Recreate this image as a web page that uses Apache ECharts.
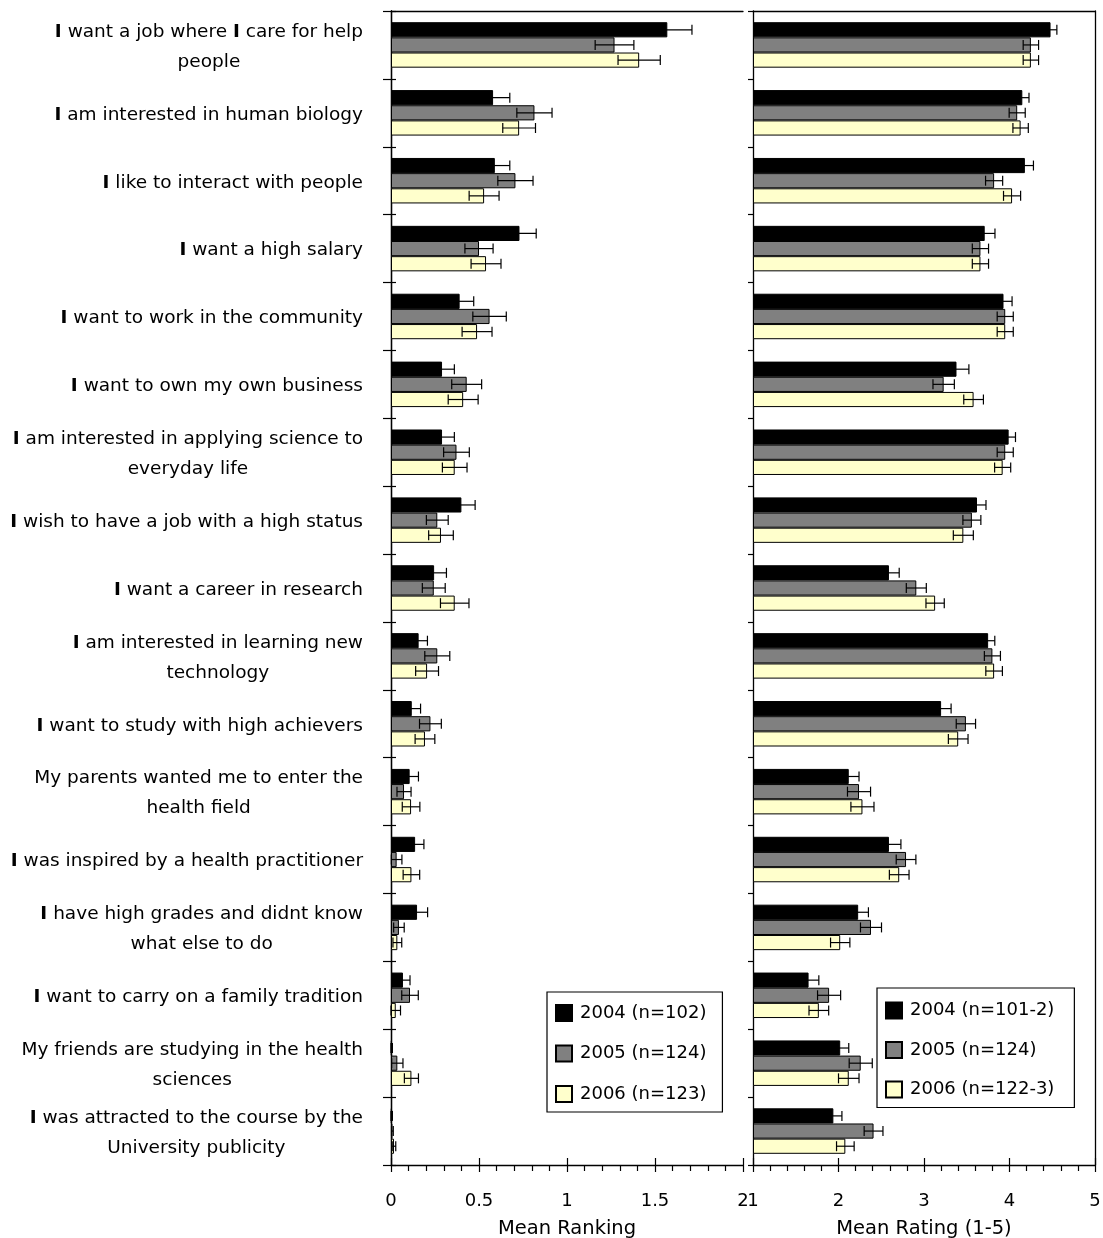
<!DOCTYPE html>
<html>
<head>
<meta charset="utf-8">
<title>Reasons for choosing the course</title>
<script src="https://cdn.jsdelivr.net/npm/echarts@6/dist/echarts.min.js"></script>
<style>
  html, body { margin: 0; padding: 0; background: #fff; }
  #chart { width: 1103px; height: 1238px; }
</style>
</head>
<body>
<div id="chart"></div>
<script>
// ---- data ---------------------------------------------------------------
const categories = [
  'I want a job where I care for help\npeople',
  'I am interested in human biology',
  'I like to interact with people',
  'I want a high salary',
  'I want to work in the community',
  'I want to own my own business',
  'I am interested in applying science to\neveryday life',
  'I wish to have a job with a high status',
  'I want a career in research',
  'I am interested in learning new\ntechnology',
  'I want to study with high achievers',
  'My parents wanted me to enter the\nhealth field',
  'I was inspired by a health practitioner',
  'I have high grades and didnt know\nwhat else to do',
  'I want to carry on a family tradition',
  'My friends are studying in the health\nsciences',
  'I was attracted to the course by the\nUniversity publicity'
];

// Mean ranking (left panel) with standard errors
const rankNames = ['2004 (n=102)', '2005 (n=124)', '2006 (n=123)'];
const rank2004 = [1.57, 0.58, 0.59, 0.73, 0.39, 0.29, 0.29, 0.40, 0.245, 0.157, 0.118, 0.106, 0.137, 0.148, 0.068, 0.004, 0.004];
const rankErr2004 = [0.14, 0.095, 0.085, 0.095, 0.08, 0.07, 0.07, 0.078, 0.07, 0.05, 0.05, 0.05, 0.05, 0.06, 0.04, 0.004, 0.004];
const rank2005 = [1.27, 0.815, 0.707, 0.50, 0.56, 0.43, 0.372, 0.263, 0.243, 0.263, 0.224, 0.074, 0.032, 0.045, 0.108, 0.036, 0.008];
const rankErr2005 = [0.11, 0.10, 0.10, 0.08, 0.095, 0.085, 0.073, 0.062, 0.065, 0.071, 0.062, 0.04, 0.03, 0.03, 0.047, 0.032, 0.005];
const rank2006 = [1.41, 0.728, 0.529, 0.54, 0.489, 0.41, 0.362, 0.284, 0.362, 0.205, 0.193, 0.114, 0.116, 0.036, 0.027, 0.116, 0.017];
const rankErr2006 = [0.12, 0.093, 0.085, 0.085, 0.085, 0.085, 0.07, 0.07, 0.081, 0.065, 0.056, 0.05, 0.047, 0.025, 0.027, 0.04, 0.01];
const rankTicks = [0, 0.5, 1, 1.5, 2];

// Mean rating 1-5 (right panel) with standard errors
const rateNames = ['2004 (n=101-2)', '2005 (n=124)', '2006 (n=122-3)'];
const rate2004 = [4.48, 4.15, 4.18, 3.71, 3.93, 3.38, 3.99, 3.62, 2.59, 3.75, 3.20, 2.12, 2.59, 2.23, 1.65, 2.02, 1.94];
const rateErr2004 = [0.074, 0.078, 0.10, 0.12, 0.10, 0.145, 0.08, 0.105, 0.12, 0.078, 0.117, 0.12, 0.14, 0.12, 0.12, 0.10, 0.10];
const rate2005 = [4.25, 4.09, 3.82, 3.66, 3.95, 3.23, 3.95, 3.56, 2.91, 3.80, 3.49, 2.24, 2.79, 2.38, 1.89, 2.26, 2.41];
const rateErr2005 = [0.09, 0.094, 0.10, 0.095, 0.094, 0.125, 0.094, 0.105, 0.117, 0.094, 0.113, 0.135, 0.115, 0.123, 0.135, 0.135, 0.11];
const rate2006 = [4.25, 4.13, 4.03, 3.66, 3.95, 3.58, 3.92, 3.46, 3.13, 3.82, 3.40, 2.28, 2.71, 2.02, 1.77, 2.12, 2.08];
const rateErr2006 = [0.09, 0.09, 0.10, 0.095, 0.094, 0.115, 0.094, 0.117, 0.107, 0.097, 0.115, 0.135, 0.115, 0.113, 0.115, 0.12, 0.103];
const rateTicks = [1, 2, 3, 4, 5];

// ---- styling ------------------------------------------------------------
const FONT = '"DejaVu Sans", "Liberation Sans", sans-serif';
const COLORS = ['#000000', '#808080', '#ffffcc'];
const CAT_GAP = 0.33;
const AXIS_LINE = { color: '#000', width: 1.3 };
const TICK_LINE = { color: '#000', width: 1.2 };

// Category label: lines centred in a right-aligned block, standalone "I" set heavier
function categoryLabel(value) {
  return value.split('\n').map(line =>
    line.split(/\b(I)\b/).filter(s => s !== '')
      .map(s => (s === 'I' ? '{b|I}' : '{n|' + s + '}')).join('')
  ).join('\n');
}
const labelRich = {
  n: { fontFamily: FONT, fontSize: 18.5, color: '#000', align: 'center', lineHeight: 30 },
  b: { fontFamily: FONT, fontSize: 18.5, color: '#000', align: 'center', lineHeight: 30, fontWeight: 'bold' }
};

function barSeries(name, values, colorIdx, xIdx, yIdx) {
  return {
    type: 'bar', name, data: values, xAxisIndex: xIdx, yAxisIndex: yIdx,
    barGap: '0%', barCategoryGap: (CAT_GAP * 100) + '%',
    itemStyle: { color: COLORS[colorIdx], borderColor: '#000', borderWidth: 1 },
    z: 2
  };
}

// Horizontal error bar (mean ± SE) drawn on top of the matching bar slot
function errorSeries(name, values, errs, slot, xIdx, yIdx) {
  return {
    type: 'custom', name, xAxisIndex: xIdx, yAxisIndex: yIdx, z: 5,
    encode: { x: [1, 2], y: 0 },
    data: values.map((v, i) => [i, v - errs[i], v + errs[i]]),
    renderItem(params, api) {
      const cat = api.value(0);
      const lo = api.coord([api.value(1), cat]);
      const hi = api.coord([api.value(2), cat]);
      const band = api.size([0, 1])[1];
      const bw = band * (1 - CAT_GAP) / 3;
      const y = lo[1] + (slot - 1) * bw;
      const half = 5;
      const st = { stroke: '#000', lineWidth: 1.2 };
      return {
        type: 'group',
        children: [
          { type: 'line', shape: { x1: lo[0], y1: y, x2: hi[0], y2: y }, style: st },
          { type: 'line', shape: { x1: lo[0], y1: y - half, x2: lo[0], y2: y + half }, style: st },
          { type: 'line', shape: { x1: hi[0], y1: y - half, x2: hi[0], y2: y + half }, style: st }
        ]
      };
    }
  };
}

function valueAxes(gridIndex, ticks, name) {
  const min = ticks[0], max = ticks[ticks.length - 1], interval = ticks[1] - ticks[0];
  return [
    { // main bottom axis with labels, outward ticks
      gridIndex, type: 'value', position: 'bottom', min, max, interval, startValue: min,
      axisLine: { show: true, onZero: false, lineStyle: AXIS_LINE },
      axisTick: { show: true, length: 7, lineStyle: TICK_LINE },
      minorTick: { show: true, splitNumber: 5, length: 6, lineStyle: TICK_LINE },
      splitLine: { show: false }, minorSplitLine: { show: false },
      axisLabel: { fontFamily: FONT, fontSize: 18, color: '#000', margin: 27,
                   showMinLabel: true, showMaxLabel: true, hideOverlap: false },
      name, nameLocation: 'middle', nameGap: 54,
      nameTextStyle: { fontFamily: FONT, fontSize: 19.5, color: '#000' }
    },
    { // inner half of the major ticks
      gridIndex, type: 'value', position: 'bottom', min, max, interval,
      axisLine: { show: false },
      axisTick: { show: true, inside: true, length: 7, lineStyle: TICK_LINE },
      axisLabel: { show: false }, splitLine: { show: false }
    },
    { // top frame line
      gridIndex, type: 'value', position: 'top', min, max, interval,
      axisLine: { show: true, onZero: false, lineStyle: AXIS_LINE },
      axisTick: { show: false }, axisLabel: { show: false }, splitLine: { show: false }
    }
  ];
}

const option = {
  animation: false,
  backgroundColor: '#fff',
  grid: [
    { left: 391, top: 11, width: 352, height: 1154, containLabel: false, outerBoundsMode: 'none' },
    { left: 753, top: 11, width: 342, height: 1154, containLabel: false, outerBoundsMode: 'none' }
  ],
  xAxis: [
    ...valueAxes(0, rankTicks, 'Mean Ranking'),
    ...valueAxes(1, rateTicks, 'Mean Rating (1-5)')
  ],
  yAxis: [
    {
      gridIndex: 0, type: 'category', data: categories, inverse: true, position: 'left',
      axisLine: { show: true, lineStyle: AXIS_LINE },
      axisTick: { show: true, length: 8, lineStyle: TICK_LINE },
      axisLabel: { interval: 0, margin: 28, align: 'right', padding: [4, 0, 0, 0],
                   formatter: categoryLabel, rich: labelRich },
      splitLine: { show: false }
    },
    {
      gridIndex: 0, type: 'category', data: categories, inverse: true, position: 'right',
      axisLine: { show: true, lineStyle: AXIS_LINE },
      axisTick: { show: true, length: 5, lineStyle: TICK_LINE },
      axisLabel: { show: false }, splitLine: { show: false }
    },
    {
      gridIndex: 1, type: 'category', data: categories, inverse: true, position: 'left',
      axisLine: { show: true, lineStyle: AXIS_LINE },
      axisTick: { show: true, length: 5, lineStyle: TICK_LINE },
      axisLabel: { show: false }, splitLine: { show: false }
    },
    {
      gridIndex: 1, type: 'category', data: categories, inverse: true, position: 'right',
      axisLine: { show: true, lineStyle: AXIS_LINE },
      axisTick: { show: false }, axisLabel: { show: false }, splitLine: { show: false }
    }
  ],
  legend: [
    {
      data: rankNames, orient: 'vertical', left: 547, top: 992,
      padding: [11, 16, 8, 8], itemWidth: 16, itemHeight: 16, itemGap: 20.5,
      icon: 'rect', selectedMode: false,
      borderColor: '#000', borderWidth: 1.2, backgroundColor: '#fff',
      textStyle: { fontFamily: FONT, fontSize: 18, color: '#000', lineHeight: 20, padding: [0, 0, 0, 3] }
    },
    {
      data: rateNames, orient: 'vertical', left: 877, top: 988,
      padding: [12.5, 20, 8, 8], itemWidth: 16, itemHeight: 16, itemGap: 19.5,
      icon: 'rect', selectedMode: false,
      borderColor: '#000', borderWidth: 1.2, backgroundColor: '#fff',
      textStyle: { fontFamily: FONT, fontSize: 18, color: '#000', lineHeight: 20, padding: [0, 0, 0, 3] }
    }
  ],
  series: [
    barSeries(rankNames[0], rank2004, 0, 0, 0),
    barSeries(rankNames[1], rank2005, 1, 0, 0),
    barSeries(rankNames[2], rank2006, 2, 0, 0),
    errorSeries('rank-se-2004', rank2004, rankErr2004, 0, 0, 0),
    errorSeries('rank-se-2005', rank2005, rankErr2005, 1, 0, 0),
    errorSeries('rank-se-2006', rank2006, rankErr2006, 2, 0, 0),
    barSeries(rateNames[0], rate2004, 0, 3, 2),
    barSeries(rateNames[1], rate2005, 1, 3, 2),
    barSeries(rateNames[2], rate2006, 2, 3, 2),
    errorSeries('rate-se-2004', rate2004, rateErr2004, 0, 3, 2),
    errorSeries('rate-se-2005', rate2005, rateErr2005, 1, 3, 2),
    errorSeries('rate-se-2006', rate2006, rateErr2006, 2, 3, 2)
  ]
};

const chart = echarts.init(document.getElementById('chart'), null, { renderer: 'canvas' });
chart.setOption(option);
</script>
</body>
</html>
